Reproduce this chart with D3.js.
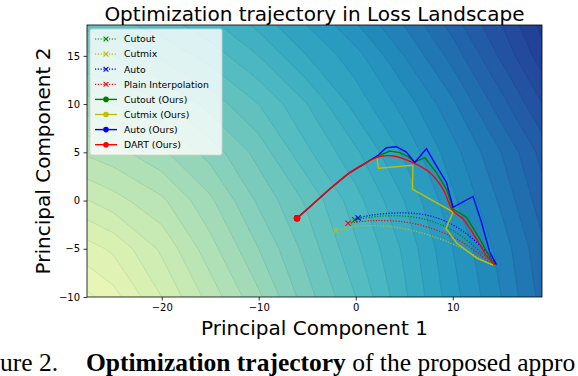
<!DOCTYPE html>
<html>
<head>
<meta charset="utf-8">
<script src="https://cdn.jsdelivr.net/npm/d3@7"></script>
<style>
body { margin: 0; background: #fff; }
svg { display: block; font-family: "DejaVu Sans", sans-serif; }
</style>
</head>
<body>
<svg id="chart" width="578" height="376"></svg>
<script>
const gridX = [-30, -25, -20, -15, -10, -5, 0, 5, 10, 15, 20];
const gridY = [-15, -10, -5, 0, 5, 10, 15, 20];
const loss = [
    [5, 11, 18, 24, 31, 38, 45, 51, 58, 65, 71],
    [10, 14, 20, 26, 32, 39, 45, 52, 59, 65, 72],
    [15, 18, 23, 29, 35, 41, 47, 53, 60, 66, 73],
    [21, 24, 27, 32, 38, 43, 49, 55, 62, 68, 75],
    [27, 29, 32, 36, 41, 47, 52, 58, 64, 70, 77],
    [33, 35, 37, 41, 45, 50, 56, 61, 67, 74, 81],
    [39, 40, 43, 46, 50, 55, 59, 65, 71, 78, 85],
    [45, 46, 48, 51, 55, 59, 64, 69, 75, 81, 88]
];
const levels = d3.range(0, 100, 2.5);

// trajectories (PC1, PC2)
const cutout = [[-0.1, -2.0], [2.47, -1.63], [5.22, -1.63], [7.63, -2.08], [10.03, -3.11], [12.1, -4.66], [13.47, -5.86], [14.3, -6.65]];
const cutmix = [[-2.06, -3.11], [0.07, -2.66], [3.16, -2.66], [5.9, -3.11], [8.66, -3.97], [11.06, -5.0], [13.12, -6.2], [14.15, -6.72]];
const auto = [[0.24, -1.8], [1.78, -1.49], [4.19, -1.29], [6.6, -1.39], [8.66, -1.9], [10.7, -2.94], [12.44, -4.31], [13.8, -5.69], [14.5, -6.65]];
const plain = [[-0.79, -2.35], [1.78, -2.08], [5.22, -2.25], [7.97, -2.94], [10.38, -3.97], [12.44, -5.34], [13.81, -6.37], [14.3, -6.65]];
const cutoutOurs = [[-6.05, -1.84], [-4.4, -0.36], [-2.68, 1.19], [-0.62, 2.9], [1.1, 3.94], [2.47, 4.69], [3.51, 5.13], [4.54, 4.97], [5.39, 4.55], [6.08, 4.0], [7.11, 4.45], [8.32, 2.9], [9.35, 1.19], [10.03, -0.88], [11.41, -1.73], [12.78, -3.97], [13.81, -5.86], [14.33, -6.65]];
const cutmixOurs = [[-6.05, -1.84], [-4.4, -0.36], [-2.68, 1.19], [-0.62, 2.9], [1.1, 3.94], [2.2, 4.45], [2.34, 3.35], [5.9, 3.66], [5.84, 1.19], [10.05, -1.2], [9.3, -2.9], [10.4, -4.4], [12.5, -6.0], [14.2, -6.7]];
const autoOurs = [[-6.05, -1.84], [-4.4, -0.36], [-2.68, 1.19], [-0.62, 2.9], [1.1, 3.94], [2.3, 4.69], [3.16, 5.48], [4.19, 5.58], [5.22, 5.03], [6.08, 3.94], [7.29, 5.38], [8.32, 3.59], [9.35, 1.88], [10.03, -0.7], [12.09, 0.43], [12.96, -2.25], [13.81, -5.34], [14.5, -6.65]];
const dart = [[-6.05, -1.84], [-4.4, -0.36], [-2.68, 1.19], [-0.62, 2.9], [1.1, 3.94], [2.47, 4.55], [3.85, 4.62], [5.9, 3.94], [7.63, 2.9], [9.0, 1.19], [10.0, -1.05], [11.06, -1.9], [12.44, -3.97], [13.47, -5.69], [14.3, -6.65]];

const names = ['Cutout', 'Cutmix', 'Auto', 'Plain Interpolation', 'Cutout (Ours)', 'Cutmix (Ours)', 'Auto (Ours)', 'DART (Ours)'];
const xTicks = [-20, -10, 0, 10];
const yTicks = [-10, -5, 0, 5, 10, 15];

const series = [
    { pts: cutout, color: '#008000', ours: false },
    { pts: cutmix, color: '#bfbf00', ours: false },
    { pts: auto, color: '#0000ff', ours: false },
    { pts: plain, color: '#ff0000', ours: false },
    { pts: cutoutOurs, color: '#008000', ours: true },
    { pts: cutmixOurs, color: '#bfbf00', ours: true },
    { pts: autoOurs, color: '#0000ff', ours: true },
    { pts: dart, color: '#ff0000', ours: true, smooth: true }
].map((s, i) => ({ ...s, name: names[i] }));

let svg = d3.select('#chart');
let pLeft = 87, pRight = 542, pTop = 25, pBottom = 297;

let x = d3.scaleLinear().domain([-27.7, 19.2]).range([pLeft, pRight]);
let y = d3.scaleLinear().domain([-10, 18.2]).range([pBottom, pTop]);

svg.append('clipPath')
    .attr('id', 'plot-clip')
    .append('rect')
    .attr('x', pLeft).attr('y', pTop)
    .attr('width', pRight - pLeft).attr('height', pBottom - pTop);

// filled contours of the landscape
let step = gridX[1] - gridX[0];
let grid = d3.geoTransform({
    point: function(px, py) {
        this.stream.point(x(gridX[0] + (px - 0.5) * step), y(gridY[0] + (py - 0.5) * step));
    }
});
let contours = d3.contours()
    .size([gridX.length, gridY.length])
    .thresholds(levels)(loss.flat());

let color = v => d3.interpolateYlGnBu((v + 1.25) / 100);

svg.append('g')
    .attr('clip-path', 'url(#plot-clip)')
    .selectAll('path')
    .data(contours)
    .enter()
    .append('path')
    .attr('d', d3.geoPath(grid))
    .attr('fill', d => color(d.value))
    .attr('stroke', d => d3.color(color(d.value)).darker(0.45))
    .attr('stroke-width', 0.5);

// trajectories
let plot = svg.append('g').attr('clip-path', 'url(#plot-clip)');

let line = d3.line()
    .x(d => x(d[0]))
    .y(d => y(d[1]));

series.forEach(s => {
    let curve = (s.smooth || !s.ours) ? d3.curveCatmullRom : d3.curveLinear;
    plot.append('path')
        .attr('d', line.curve(curve)(s.pts))
        .attr('fill', 'none')
        .attr('stroke', s.color)
        .attr('stroke-width', s.ours ? 1.4 : 1.2)
        .attr('stroke-dasharray', s.ours ? null : '1.2,1.6');
});

function cross(g, cx, cy, r, c) {
    g.append('path')
        .attr('d', `M${cx - r},${cy - r}L${cx + r},${cy + r}M${cx - r},${cy + r}L${cx + r},${cy - r}`)
        .attr('stroke', c)
        .attr('stroke-width', 1.1);
}

series.forEach(s => {
    let p = s.pts[0];
    if (s.ours) {
        plot.append('circle')
            .attr('cx', x(p[0])).attr('cy', y(p[1]))
            .attr('r', 3.2)
            .attr('fill', s.color);
    } else {
        cross(plot, x(p[0]), y(p[1]), 2.6, s.color);
    }
});

// axes
let fmt = d => String(d).replace('-', '\u2212');

let xAxis = d3.axisBottom(x)
    .tickValues(xTicks)
    .tickFormat(fmt)
    .tickSizeInner(3.5)
    .tickSizeOuter(0)
    .tickPadding(3.5);

let yAxis = d3.axisLeft(y)
    .tickValues(yTicks)
    .tickFormat(fmt)
    .tickSizeInner(3.5)
    .tickSizeOuter(0)
    .tickPadding(3.5);

let $xAxis = svg.append('g')
    .attr('transform', `translate(0, ${pBottom})`)
    .call(xAxis);

let $yAxis = svg.append('g')
    .attr('transform', `translate(${pLeft}, 0)`)
    .call(yAxis);

[$xAxis, $yAxis].forEach(a => {
    a.select('.domain').remove();
    a.selectAll('text').attr('font-size', 10).attr('font-family', 'DejaVu Sans').attr('fill', '#000');
    a.selectAll('line').attr('stroke', '#000').attr('stroke-width', 0.8);
});

svg.append('rect')
    .attr('x', pLeft).attr('y', pTop)
    .attr('width', pRight - pLeft).attr('height', pBottom - pTop)
    .attr('fill', 'none')
    .attr('stroke', '#000')
    .attr('stroke-width', 0.8);

// legend
let legend = svg.append('g');

legend.append('rect')
    .attr('x', 90).attr('y', 29)
    .attr('width', 132).attr('height', 126)
    .attr('rx', 2)
    .attr('fill', '#fff')
    .attr('fill-opacity', 0.8)
    .attr('stroke', '#d0d0d0')
    .attr('stroke-width', 0.8);

let items = legend.selectAll('g.item')
    .data(series)
    .enter()
    .append('g')
    .attr('class', 'item')
    .attr('transform', (d, i) => `translate(0, ${39 + i * 15.1})`);

items.append('line')
    .attr('x1', 95).attr('x2', 117)
    .attr('stroke', d => d.color)
    .attr('stroke-width', d => d.ours ? 1.4 : 1.2)
    .attr('stroke-dasharray', d => d.ours ? null : '1.2,1.6');

items.each(function(d) {
    let g = d3.select(this);
    if (d.ours) {
        g.append('circle').attr('cx', 106).attr('cy', 0).attr('r', 2.8).attr('fill', d.color);
    } else {
        cross(g, 106, 0, 2.4, d.color);
    }
});

items.append('text')
    .attr('x', 124)
    .attr('y', 3.3)
    .attr('font-size', 9.3)
    .text(d => d.name);

// titles
svg.append('text')
    .attr('x', (pLeft + pRight) / 2)
    .attr('y', 21)
    .attr('text-anchor', 'middle')
    .attr('font-size', 20)
    .text('Optimization trajectory in Loss Landscape');

svg.append('text')
    .attr('x', (pLeft + pRight) / 2)
    .attr('y', 335)
    .attr('text-anchor', 'middle')
    .attr('font-size', 20)
    .text('Principal Component 1');

svg.append('text')
    .attr('transform', `translate(50, ${(pTop + pBottom) / 2}) rotate(-90)`)
    .attr('text-anchor', 'middle')
    .attr('font-size', 20)
    .text('Principal Component 2');

// caption below the figure (only the part visible in the crop)
svg.append('text')
    .attr('x', 0)
    .attr('y', 371)
    .attr('font-family', 'Liberation Serif')
    .attr('font-size', 25.5)
    .text('ure 2.');

let cap = svg.append('text')
    .attr('x', 86)
    .attr('y', 371)
    .attr('font-family', 'Liberation Serif')
    .attr('font-size', 25.5);
cap.append('tspan').attr('font-weight', 'bold').text('Optimization trajectory');
cap.append('tspan').text(' of the proposed appro');
</script>
</body>
</html>
